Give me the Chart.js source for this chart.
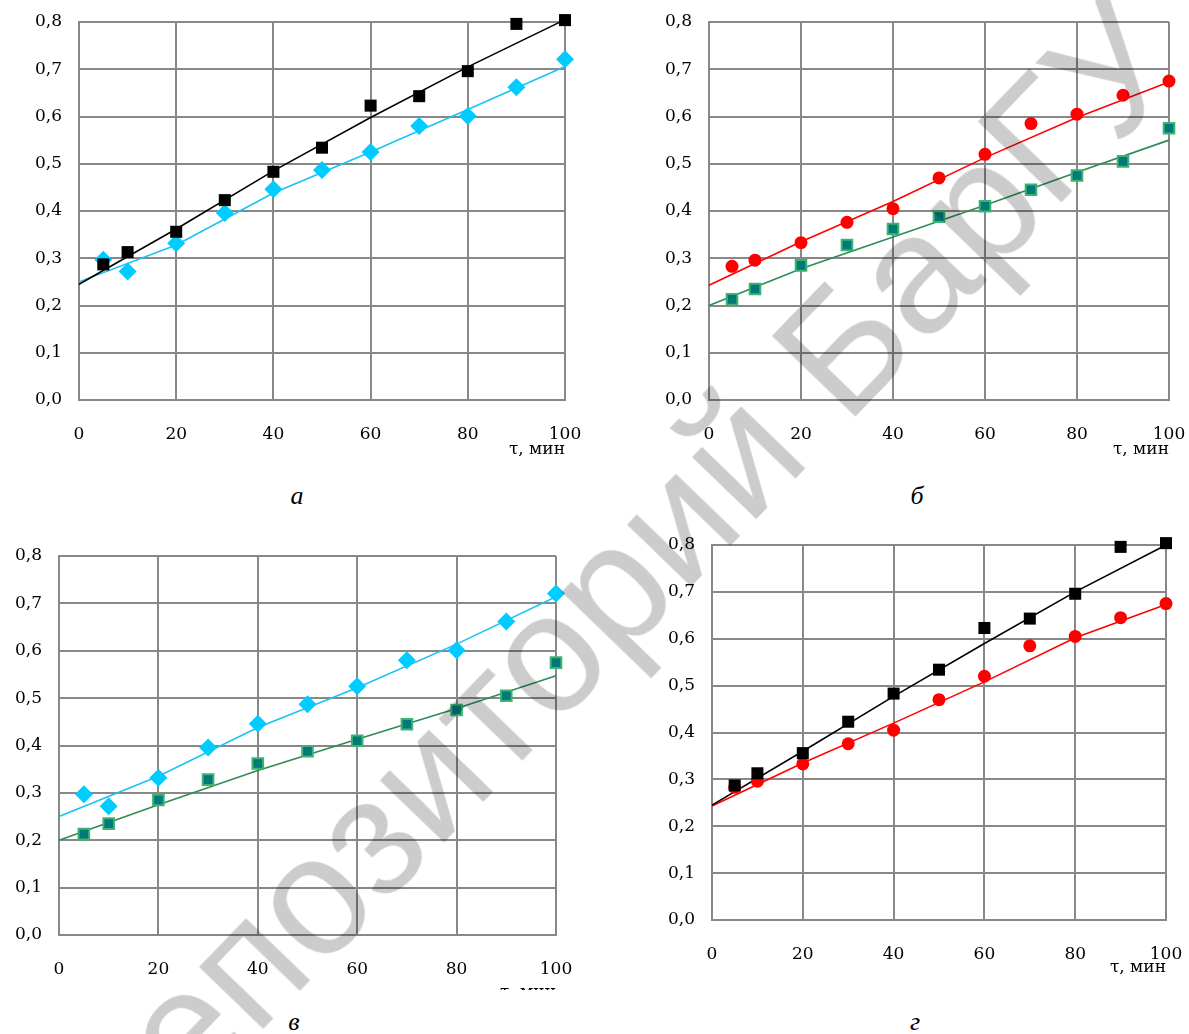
<!DOCTYPE html>
<html><head><meta charset="utf-8">
<script src="https://cdn.jsdelivr.net/npm/chart.js@4.4.0/dist/chart.umd.min.js"></script>
<style>
html,body{margin:0;padding:0;background:#fff;}
#page{position:relative;width:1189px;height:1034px;overflow:hidden;background:#fff;}
.box{position:absolute;}
.cap{position:absolute;font-family:'Liberation Serif',serif;font-style:italic;font-size:26px;line-height:1;transform:translate(-50%,-50%);color:#000;}
#wm{position:absolute;left:612px;top:585px;transform:translate(-50%,-50%) rotate(-46deg);font-family:'Liberation Sans',sans-serif;font-size:168px;color:rgba(0,0,0,0.2);white-space:nowrap;pointer-events:none;line-height:1;z-index:5;}
</style></head>
<body><div id="page">
<div class="box" style="left:0;top:0;width:590px;height:460px"><canvas id="ca"></canvas></div>
<div class="box" style="left:630px;top:0;width:559px;height:460px"><canvas id="cb"></canvas></div>
<div class="box" style="left:0;top:530px;width:590px;height:460px"><canvas id="cc"></canvas></div>
<div class="box" style="left:630px;top:520px;width:559px;height:458px"><canvas id="cd"></canvas></div>
<div class="cap" style="left:297px;top:496px">а</div>
<div class="cap" style="left:917px;top:496px">б</div>
<div class="cap" style="left:294px;top:1022px">в</div>
<div class="cap" style="left:915px;top:1022px">г</div>
<div id="wm">Репозиторий БарГУ</div>
</div>
<script>
// ---- data ----
const tau = [5, 10, 20, 30, 40, 50, 60, 70, 80, 90, 100];
const blackSq = [0.287, 0.313, 0.356, 0.423, 0.483, 0.534, 0.623, 0.643, 0.696, 0.796, 0.804];
const cyanDia = [0.297, 0.272, 0.332, 0.396, 0.446, 0.487, 0.525, 0.580, 0.601, 0.662, 0.721];
const redDot  = [0.283, 0.296, 0.333, 0.376, 0.405, 0.470, 0.520, 0.585, 0.605, 0.645, 0.675];
const tealSq  = [0.213, 0.235, 0.285, 0.328, 0.362, 0.388, 0.410, 0.445, 0.475, 0.505, 0.575];

const trendX = [0, 20, 40, 60, 80, 100];
const trendBlackA = [0.245, 0.362, 0.485, 0.598, 0.705, 0.805];
const trendCyanA  = [0.250, 0.328, 0.438, 0.525, 0.615, 0.706];
const trendRedB   = [0.243, 0.335, 0.420, 0.513, 0.598, 0.673];
const trendGreenB = [0.200, 0.278, 0.345, 0.412, 0.482, 0.550];
const trendCyanC  = [0.250, 0.335, 0.438, 0.522, 0.614, 0.714];
const trendGreenC = [0.200, 0.275, 0.347, 0.413, 0.478, 0.547];
const trendBlackD = [0.245, 0.360, 0.477, 0.590, 0.700, 0.800];
const trendRedD   = [0.243, 0.335, 0.420, 0.508, 0.602, 0.673];

const xTicks = [0, 20, 40, 60, 80, 100];
const yTicks = [0, 0.1, 0.2, 0.3, 0.4, 0.5, 0.6, 0.7, 0.8];
const xTitle = 'τ, мин';

// ---- helpers ----
const pts = (xs, ys) => xs.map((x, i) => ({x: x, y: ys[i]}));
const FONT = {family: "'DejaVu Serif', serif", size: 17};
const GRID = '#888888';
const NONE = 'rgba(0,0,0,0)';

const mk = {
  black: d => ({data: pts(tau, d), pointStyle: 'rect', pointRadius: 8.5, backgroundColor: '#000', borderColor: '#000', borderWidth: 0, showLine: false, clip: false, order: 1}),
  cyan:  d => ({data: pts(tau, d), pointStyle: 'rectRot', pointRadius: 9, backgroundColor: '#00ccff', borderColor: '#00ccff', borderWidth: 0, showLine: false, clip: false, order: 1}),
  red:   d => ({data: pts(tau, d), pointStyle: 'circle', pointRadius: 6.5, backgroundColor: '#ff0000', borderColor: '#ff0000', borderWidth: 0, showLine: false, clip: false, order: 1}),
  teal:  d => ({data: pts(tau, d), pointStyle: 'rect', pointRadius: 7.5, backgroundColor: '#007a78', borderColor: '#3cb371', borderWidth: 2, showLine: false, clip: false, order: 1}),
  line:  (d, c) => ({data: pts(trendX, d), showLine: true, pointRadius: 0, borderColor: c, borderWidth: 1.6, tension: 0, fill: false, clip: false, order: 3})
};

function makeChart(id, datasets, g) {
  return new Chart(document.getElementById(id), {
    type: 'scatter',
    data: {datasets: datasets},
    options: {
      responsive: true, maintainAspectRatio: false, animation: false, events: [],
      layout: {padding: {left: 0, right: g.padR, top: g.padT, bottom: 0}},
      plugins: {legend: {display: false}, tooltip: {enabled: false}},
      scales: {
        x: {
          type: 'linear', min: 0, max: 100,
          afterBuildTicks: s => { s.ticks = xTicks.map(v => ({value: v})); },
          ticks: {font: FONT, color: '#000', padding: 0, maxRotation: 0, autoSkip: false},
          grid: {color: GRID, lineWidth: 2, drawTicks: true, tickLength: g.xPad, tickColor: NONE},
          border: {color: GRID, width: 2},
          title: {display: true, text: xTitle, align: 'end', font: FONT, color: '#000', padding: {top: 0, bottom: g.titlePB}},
          afterFit: s => { s.height = g.xh; }
        },
        y: {
          type: 'linear', min: 0, max: 0.8,
          afterBuildTicks: s => { s.ticks = yTicks.map(v => ({value: v})); },
          ticks: {font: FONT, color: '#000', padding: 0, callback: v => Number(v).toFixed(1).replace('.', ',')},
          grid: {color: GRID, lineWidth: 2, drawTicks: true, tickLength: 17, tickColor: NONE},
          border: {color: GRID, width: 2},
          afterFit: s => { s.width = g.yw; }
        }
      }
    }
  });
}

makeChart('ca', [mk.black(blackSq), mk.cyan(cyanDia), mk.line(trendBlackA, '#000000'), mk.line(trendCyanA, '#19c3f5')],
  {yw: 79, padR: 25, padT: 22, xh: 60, xPad: 24, titlePB: 0});
makeChart('cb', [mk.red(redDot), mk.teal(tealSq), mk.line(trendRedB, '#ff0000'), mk.line(trendGreenB, '#2e8b57')],
  {yw: 79, padR: 20, padT: 22, xh: 60, xPad: 24, titlePB: 0});
makeChart('cc', [mk.cyan(cyanDia), mk.teal(tealSq), mk.line(trendCyanC, '#19c3f5'), mk.line(trendGreenC, '#2e8b57')],
  {yw: 59, padR: 34, padT: 26, xh: 55, xPad: 24, titlePB: -13});
makeChart('cd', [mk.black(blackSq), mk.red(redDot), mk.line(trendBlackD, '#000000'), mk.line(trendRedD, '#ff0000')],
  {yw: 82, padR: 23, padT: 25, xh: 58, xPad: 24, titlePB: 0});
</script>
</body></html>
